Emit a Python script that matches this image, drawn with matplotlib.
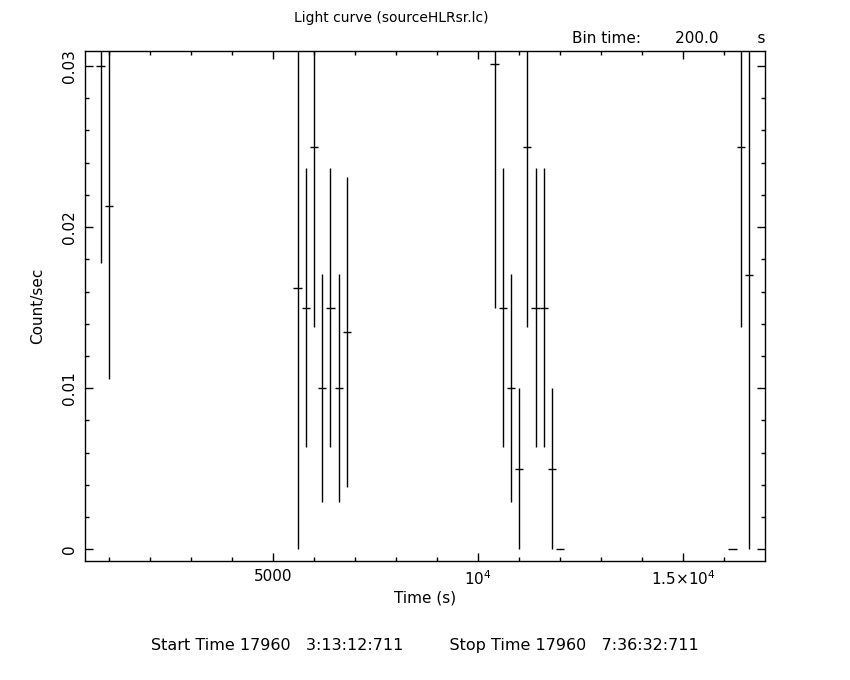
import numpy as np
from matplotlib import pyplot as plt
from matplotlib.ticker import MultipleLocator, FixedLocator, FixedFormatter

# bin centres (s), rates (count/sec) and 1-sigma errors
times = [800, 1000, 5600, 5800, 6000, 6200, 6400, 6600, 6800,
         10400, 10600, 10800, 11000, 11200, 11400, 11600, 11800, 12000,
         16200, 16400, 16600]
rates = [0.0300, 0.0213, 0.0162, 0.0150, 0.0250, 0.0100, 0.0150, 0.0100, 0.0135,
         0.0301, 0.0150, 0.0100, 0.0050, 0.0250, 0.0150, 0.0150, 0.0050, 0.0,
         0.0, 0.0250, 0.0170]
errors = [0.0122, 0.0107, 0.0162, 0.00866, 0.0112, 0.00707, 0.00866, 0.00707, 0.0096,
          0.0151, 0.00866, 0.00707, 0.0050, 0.0112, 0.00866, 0.00866, 0.0050, 0.0,
          0.0, 0.0112, 0.0170]
bin_time = 200.0

x_ticks = [5000, 10000, 15000]
x_labels = ['5000', r'$\mathregular{10^4}$', r'$\mathregular{1.5{\times}10^4}$']
y_ticks = [0, 0.01, 0.02, 0.03]
y_labels = ['0', '0.01', '0.02', '0.03']

plt.rcParams['font.family'] = ['DejaVu Sans']
plt.rcParams['font.size'] = 11

fig = plt.figure(figsize=(8.5, 6.8), dpi=100)
ax = fig.add_axes([0.1, 0.175, 0.8, 0.75])

ax.errorbar(times, rates, yerr=errors, xerr=bin_time / 2, fmt='none',
            ecolor='black', elinewidth=1.0, capsize=0)

ax.set_xlim(420, 16990)
ax.set_ylim(-0.00072, 0.03093)

ax.xaxis.set_major_locator(FixedLocator(x_ticks))
ax.xaxis.set_major_formatter(FixedFormatter(x_labels))
ax.xaxis.set_minor_locator(MultipleLocator(1000))
ax.yaxis.set_major_locator(FixedLocator(y_ticks))
ax.yaxis.set_major_formatter(FixedFormatter(y_labels))
ax.yaxis.set_minor_locator(MultipleLocator(0.002))

ax.tick_params(which='both', direction='in', top=True, right=True, width=1, colors='black')
ax.tick_params(which='major', length=6, pad=6)
ax.tick_params(which='minor', length=3)
for lab in ax.get_yticklabels():
    lab.set_rotation(90)
    lab.set_va('center')
for sp in ax.spines.values():
    sp.set_linewidth(1)

ax.set_xlabel('Time (s)', labelpad=2)
ax.set_ylabel('Count/sec', labelpad=12)

fig.text(0.46, 0.973, 'Light curve (sourceHLRsr.lc)', ha='center', va='center', fontsize=10)
fig.text(0.9, 0.944, 'Bin time:       {:.1f}        s'.format(bin_time), ha='right', va='center')
fig.text(0.5, 0.051, 'Start Time 17960   3:13:12:711         Stop Time 17960   7:36:32:711',
         ha='center', va='center', fontsize=11.5)

plt.savefig('out.png', dpi=100)
